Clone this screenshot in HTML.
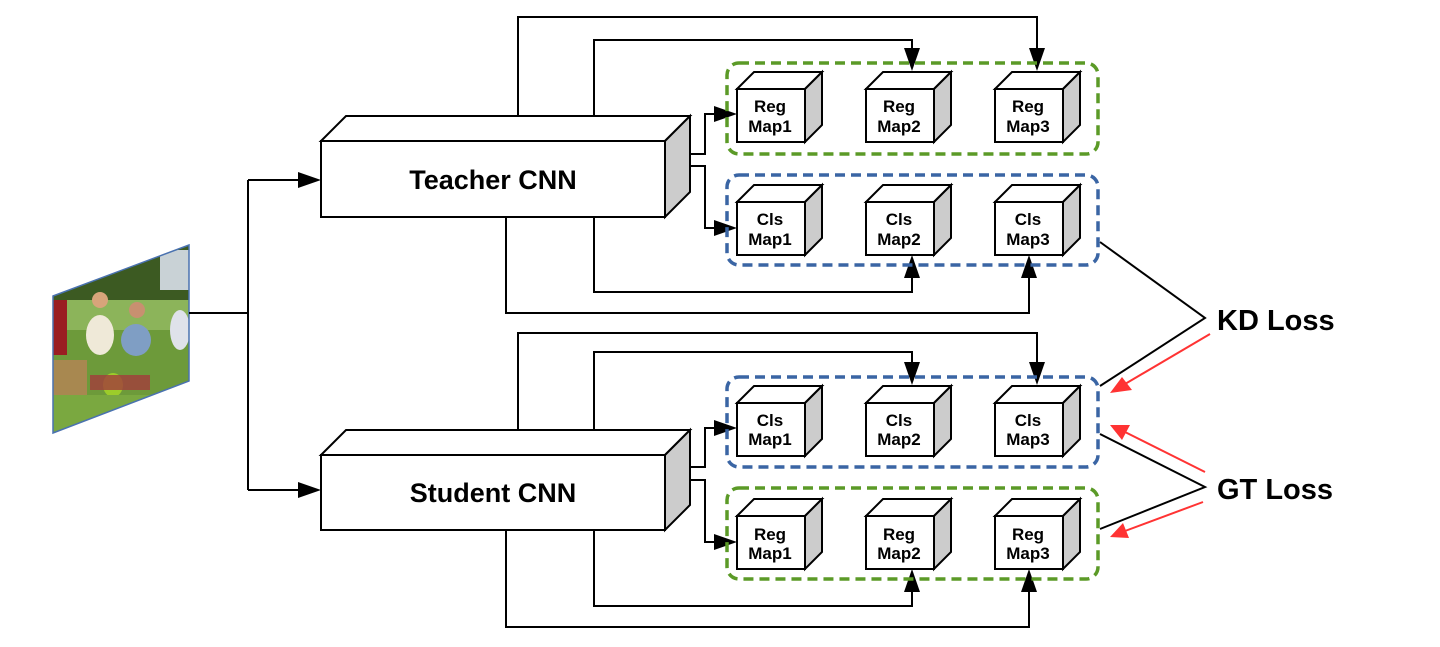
<!DOCTYPE html>
<html><head><meta charset="utf-8"><style>
html,body{margin:0;padding:0;background:#fff;}
svg{display:block;}
text{font-family:"Liberation Sans",Arial,sans-serif;font-weight:bold;fill:#000;}
</style></head><body>
<svg width="1440" height="647" viewBox="0 0 1440 647" xmlns="http://www.w3.org/2000/svg">
<defs>
<clipPath id="pc"><polygon points="53,296 189,245 189,381 53,433"/></clipPath>
<g id="cube">
<polygon points="0,17 17,0 85,0 68,17" fill="#fff" stroke="#000" stroke-width="2"/>
<polygon points="68,17 85,0 85,53 68,70" fill="#ccc" stroke="#000" stroke-width="2"/>
<rect x="0" y="17" width="68" height="53" fill="#fff" stroke="#000" stroke-width="2"/>
</g>
</defs>

<!-- image -->
<g clip-path="url(#pc)">
<rect x="50" y="240" width="145" height="200" fill="#6d9a3a"/>
<rect x="50" y="240" width="145" height="60" fill="#3c5a22"/>
<rect x="160" y="250" width="30" height="40" fill="#c9d2d6"/>
<rect x="50" y="300" width="145" height="30" fill="#8cb45a"/>
<rect x="53" y="300" width="14" height="55" fill="#9a1e22"/>
<ellipse cx="100" cy="335" rx="14" ry="20" fill="#efe9d8"/>
<circle cx="100" cy="300" r="8" fill="#d8a47a"/>
<ellipse cx="136" cy="340" rx="15" ry="16" fill="#7f9ec4"/>
<circle cx="137" cy="310" r="8" fill="#c89070"/>
<ellipse cx="180" cy="330" rx="10" ry="20" fill="#dfe2ea"/>
<rect x="53" y="360" width="34" height="40" fill="#a88850"/>
<ellipse cx="113" cy="385" rx="10" ry="12" fill="#9ccc2a"/>
<rect x="90" y="375" width="60" height="15" fill="#a33c3c" opacity="0.8"/>
<rect x="50" y="395" width="145" height="45" fill="#7aa840"/>
</g>
<polygon points="53,296 189,245 189,381 53,433" fill="none" stroke="#4a72b0" stroke-width="1.5"/>

<g fill="none" stroke="#000" stroke-width="2">
<polyline points="189,313 248,313"/>
<polyline points="248,180 248,490"/>
<polyline points="248,180 300,180"/>
<polyline points="248,490 300,490"/>
<polyline points="690,154 705,154 705,114 718,114"/>
<polyline points="690,166 705,166 705,228 718,228"/>
<polyline points="518,116 518,17 1037,17 1037,52"/>
<polyline points="594,116 594,40 912,40 912,52"/>
<polyline points="506,217 506,313 1029,313 1029,274"/>
<polyline points="594,217 594,292 912,292 912,274"/>
<polyline points="690,467 705,467 705,428 718,428"/>
<polyline points="690,480 705,480 705,542 718,542"/>
<polyline points="518,430 518,333 1037,333 1037,366"/>
<polyline points="594,430 594,352 912,352 912,366"/>
<polyline points="506,530 506,627 1029,627 1029,588"/>
<polyline points="594,530 594,606 912,606 912,588"/>
<polyline points="1100,242 1205,318 1100,386"/>
<polyline points="1100,434 1205,487 1100,529"/>
</g>
<g fill="#000">
<polygon points="321,180 298,172 298,188"/>
<polygon points="321,490 298,482 298,498"/>
<polygon points="737,114 714,106 714,122"/>
<polygon points="737,228 714,220 714,236"/>
<polygon points="737,428 714,420 714,436"/>
<polygon points="737,542 714,534 714,550"/>
<polygon points="1037,71 1029,48 1045,48"/>
<polygon points="912,71 904,48 920,48"/>
<polygon points="1029,255 1021,278 1037,278"/>
<polygon points="912,255 904,278 920,278"/>
<polygon points="1037,385 1029,362 1045,362"/>
<polygon points="912,385 904,362 920,362"/>
<polygon points="1029,569 1021,592 1037,592"/>
<polygon points="912,569 904,592 920,592"/>
</g>

<g stroke="#ff3333" stroke-width="2" fill="#ff3333">
<line x1="1210" y1="334" x2="1125" y2="384"/>
<polygon points="1110,393 1122,377 1132,390" stroke="none"/>
<line x1="1205" y1="472" x2="1125" y2="432"/>
<polygon points="1110,425 1130,425 1122,440" stroke="none"/>
<line x1="1203" y1="502" x2="1125" y2="531"/>
<polygon points="1110,537 1123,523 1129,538" stroke="none"/>
</g>

<g fill="none" stroke-width="3.5" stroke-dasharray="10,6">
<rect x="727" y="63" width="371" height="91" rx="12" stroke="#5b9a27"/>
<rect x="727" y="175" width="371" height="90" rx="12" stroke="#3a65a4"/>
<rect x="727" y="377" width="371" height="90" rx="12" stroke="#3a65a4"/>
<rect x="727" y="488" width="371" height="91" rx="12" stroke="#5b9a27"/>
</g>

<polygon points="321,141 346,116 690,116 665,141" fill="#fff" stroke="#000" stroke-width="2"/>
<polygon points="665,141 690,116 690,192 665,217" fill="#ccc" stroke="#000" stroke-width="2"/>
<rect x="321" y="141" width="344" height="76" fill="#fff" stroke="#000" stroke-width="2"/>
<text x="493" y="189" font-size="27" text-anchor="middle">Teacher CNN</text>
<polygon points="321,455 346,430 690,430 665,455" fill="#fff" stroke="#000" stroke-width="2"/>
<polygon points="665,455 690,430 690,505 665,530" fill="#ccc" stroke="#000" stroke-width="2"/>
<rect x="321" y="455" width="344" height="75" fill="#fff" stroke="#000" stroke-width="2"/>
<text x="493" y="502" font-size="27" text-anchor="middle">Student CNN</text>

<g font-size="17" text-anchor="middle">
<use href="#cube" x="737" y="72"/><use href="#cube" x="866" y="72"/><use href="#cube" x="995" y="72"/>
<text x="770" y="112">Reg</text><text x="770" y="132">Map1</text>
<text x="899" y="112">Reg</text><text x="899" y="132">Map2</text>
<text x="1028" y="112">Reg</text><text x="1028" y="132">Map3</text>
<use href="#cube" x="737" y="185"/><use href="#cube" x="866" y="185"/><use href="#cube" x="995" y="185"/>
<text x="770" y="225">Cls</text><text x="770" y="245">Map1</text>
<text x="899" y="225">Cls</text><text x="899" y="245">Map2</text>
<text x="1028" y="225">Cls</text><text x="1028" y="245">Map3</text>
<use href="#cube" x="737" y="386"/><use href="#cube" x="866" y="386"/><use href="#cube" x="995" y="386"/>
<text x="770" y="426">Cls</text><text x="770" y="445">Map1</text>
<text x="899" y="426">Cls</text><text x="899" y="445">Map2</text>
<text x="1028" y="426">Cls</text><text x="1028" y="445">Map3</text>
<use href="#cube" x="737" y="499"/><use href="#cube" x="866" y="499"/><use href="#cube" x="995" y="499"/>
<text x="770" y="540">Reg</text><text x="770" y="559">Map1</text>
<text x="899" y="540">Reg</text><text x="899" y="559">Map2</text>
<text x="1028" y="540">Reg</text><text x="1028" y="559">Map3</text>
</g>

<text x="1217" y="330" font-size="29">KD Loss</text>
<text x="1217" y="499" font-size="29">GT Loss</text>
</svg>
</body></html>
